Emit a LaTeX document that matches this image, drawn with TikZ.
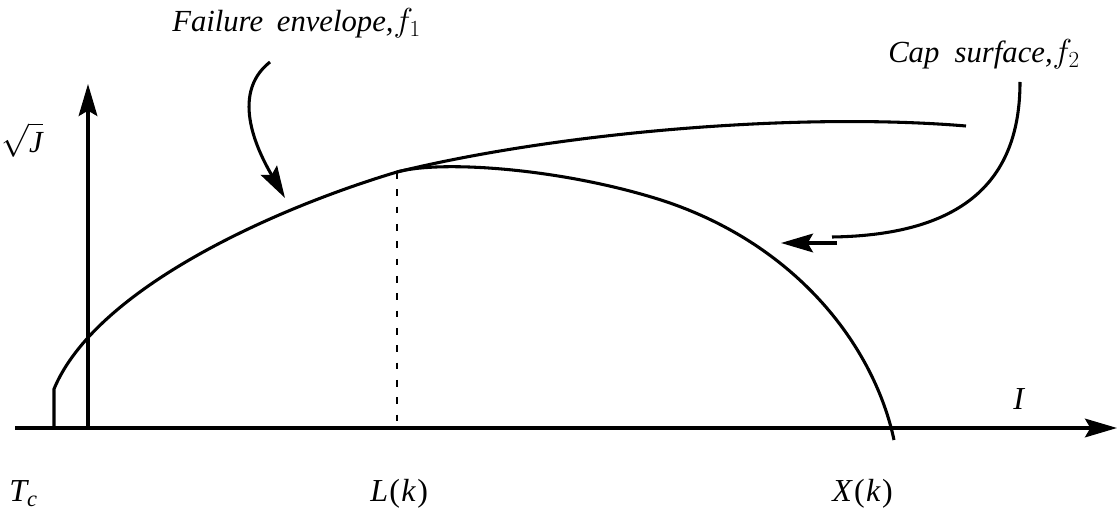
\documentclass[tikz,border=0pt]{standalone}
\usepackage{amsmath}
\usepackage{fontspec}
\setmainfont{Liberation Serif}
\usetikzlibrary{arrows.meta}

\begin{document}
\begin{tikzpicture}[x=0.75pt,y=-0.75pt,font=\fontsize{23}{27}\selectfont\itshape,
  curve/.style={line width=2.3pt},
  tip/.style={-{Stealth[length=24pt,width=14pt,inset=4pt]}},
  lbl/.style={inner sep=0pt,anchor=base west},
  axlbl/.style={lbl,font=\fontsize{24}{28}\selectfont}]
  \useasboundingbox (0,0) rectangle (1118,516);
  % axes
  \coordinate (o) at (15,428);
  \coordinate (xend) at (1117,428);
  \coordinate (yfoot) at (88,428);
  \coordinate (ytop) at (88,84);
  \draw[curve,tip] (o) -- (xend);
  \draw[curve,tip] (yfoot) -- (ytop);
  % failure envelope f_1 and cap f_2
  \coordinate (tc) at (54,428);
  \coordinate (lk) at (397,172);
  \coordinate (lkfoot) at (397,428);
  \coordinate (xk) at (894,440);
  \draw[curve] (tc) -- (54,389) .. controls (95,290) and (270,210) .. (lk)
    .. controls (560,132) and (800,112) .. (966,126);
  \draw[curve] (lk) .. controls (440,160) and (560,168) .. (661,200)
    .. controls (800,245) and (875,350) .. (xk);
  \draw[line width=1.7pt,dash pattern=on 5pt off 8pt] (lk) -- (lkfoot);
  % labels
  \node[lbl] (flab) at (172,32) {\spaceskip=0.45em Failure envelope,$f_1$};
  \node[lbl] (clab) at (888,63) {\spaceskip=0.5em Cap surface,$f_2$};
  \node (jlab) at (22,140) {$\sqrt{\textit{J}}$};
  \node[axlbl] (ilab) at (1013,410) {\textit{I}};
  \node[axlbl] (tclab) at (9,502) {$\textit{T}_{\textit{c}}$};
  \node[axlbl] (lklab) at (370,502) {\textit{L}\kern1pt(\kern1pt\textit{k}\kern1pt)};
  \node[axlbl] (xklab) at (832,502) {\textit{X}\kern1pt(\kern1pt\textit{k}\kern1pt)};
  % pointers
  \coordinate (fs) at (270,62);
  \coordinate (fe) at (285,198);
  \draw[curve,tip] (fs) .. controls (228,95) and (260,155) .. (fe);
  \coordinate (cs) at (1020,82);
  \coordinate (ce) at (832,237);
  \draw[curve] (cs) .. controls (1020,175) and (970,235) .. (ce);
  \coordinate (ca) at (837,243);
  \coordinate (cb) at (781,243);
  \draw[curve,tip] (ca) -- (cb);
\end{tikzpicture}
\end{document}
